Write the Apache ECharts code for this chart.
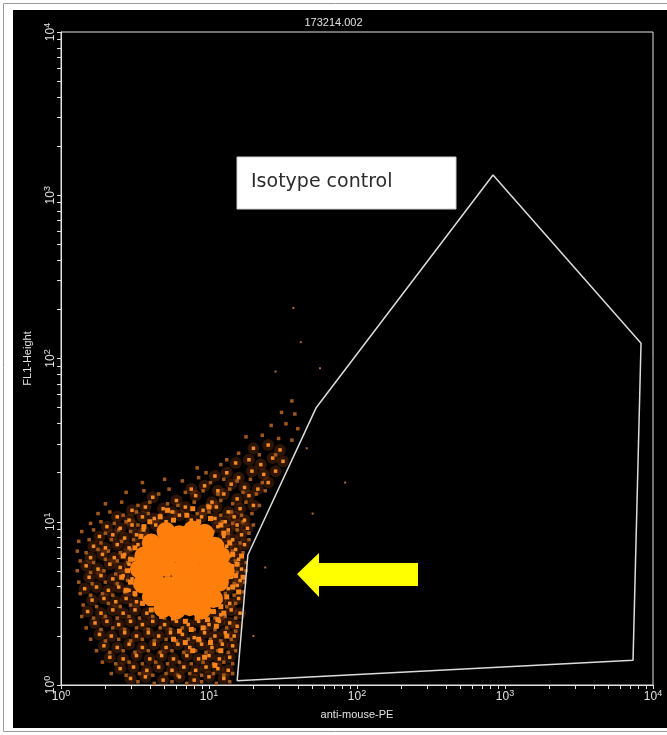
<!DOCTYPE html>
<html>
<head>
<meta charset="utf-8">
<script src="https://cdn.jsdelivr.net/npm/echarts@6/dist/echarts.min.js"></script>
<style>
  html, body { margin: 0; padding: 0; background: #fff; }
  #main { width: 667px; height: 735px; }
</style>
</head>
<body>
<div id="main"></div>
<script>
// Sample 173214.002 — anti-mouse-PE vs FL1-Height, isotype control
const sampleName = '173214.002';
const xTitle = 'anti-mouse-PE';
const yTitle = 'FL1-Height';
const noteText = 'Isotype control';

// Decades shown on both axes (10^0 .. 10^4)
const decades = [0, 1, 2, 3, 4];

// Gate polygon vertices in channel units (closed)
const gatePE  = [15.5, 18.3, 52.8, 830, 8300, 7330, 15.5];
const gateFL1 = [1.06, 6.26, 49.7, 1331, 124, 1.42, 1.06];

// Events, as [log10 PE, log10 FL1]
// dense centre of the population
const coreEvents = [
  [0.71,0.94],[0.80,0.92],[0.89,0.95],[0.97,0.93],
  [0.61,0.87],[0.69,0.85],[0.78,0.87],[0.88,0.86],[0.96,0.87],[1.04,0.85],
  [0.56,0.79],[0.65,0.78],[0.74,0.80],[0.83,0.78],[0.91,0.79],[1.00,0.77],[1.08,0.79],
  [0.53,0.71],[0.62,0.70],[0.71,0.72],[0.80,0.70],[0.88,0.71],[0.97,0.69],[1.05,0.71],[1.11,0.70],
  [0.55,0.62],[0.64,0.63],[0.73,0.61],[0.81,0.63],[0.90,0.62],[0.99,0.61],[1.07,0.63],
  [0.61,0.54],[0.70,0.55],[0.79,0.53],[0.88,0.54],[0.96,0.55],[1.03,0.53],
  [0.69,0.47],[0.78,0.46],[0.87,0.48],[0.95,0.46]
];
// events packed just around the centre
const ringEvents = [
  [0.60,1.00],[0.67,1.03],[0.76,1.01],[0.85,1.04],[0.93,1.00],[1.01,1.02],[1.08,0.98],[0.56,0.97],[0.72,1.07],[0.89,1.08],[1.00,1.09],
  [1.10,0.93],[1.14,0.87],[1.16,0.80],[1.19,0.74],[1.18,0.67],[1.16,0.60],[1.12,0.54],[1.08,0.48],[1.22,0.79],[1.23,0.66],[1.20,0.57],
  [1.03,0.45],[0.99,0.40],[0.92,0.41],[0.84,0.39],[0.76,0.41],[0.68,0.42],[0.61,0.46],[0.55,0.50],[0.88,0.34],[0.80,0.33],[0.96,0.35],[1.06,0.40],
  [0.50,0.56],[0.47,0.63],[0.45,0.70],[0.47,0.77],[0.50,0.84],[0.54,0.91],[0.41,0.66],[0.42,0.79],[0.44,0.58],
  [1.10,0.44],[1.05,0.36],[1.12,0.30],[0.93,0.28],[1.01,0.26],[1.08,0.21],[0.89,0.21],[0.97,0.17],[1.04,0.12],[0.84,0.26],[0.76,0.28]
];
// bright events around the centre
const brightEvents = [
  [0.62,1.15],[0.78,1.13],[0.91,1.16],[1.02,1.12],[1.10,1.17],[1.19,1.14],[1.27,1.16],
  [0.48,1.07],[0.57,1.09],[0.69,1.08],[0.75,1.06],[0.84,1.09],[0.96,1.07],[1.05,1.09],[1.13,1.06],[1.21,1.08],[1.30,1.10],
  [0.38,1.03],[0.46,1.01],[0.55,1.03],[0.63,1.02],[0.71,1.00],[0.80,1.04],[0.88,1.01],[0.95,1.03],[1.04,1.02],[1.11,1.00],[1.17,1.03],[1.24,1.01],
  [0.31,0.97],[0.40,0.96],[0.48,0.98],[0.56,0.95],[0.64,0.98],[1.06,0.97],[1.13,0.95],[1.19,0.98],[1.26,0.96],
  [0.26,0.91],[0.35,0.92],[0.43,0.90],[0.51,0.92],[0.58,0.90],[1.10,0.91],[1.16,0.89],[1.22,0.92],
  [0.22,0.85],[0.30,0.84],[0.38,0.86],[0.46,0.84],[0.52,0.86],[1.12,0.85],[1.18,0.83],[1.24,0.86],
  [0.20,0.78],[0.28,0.80],[0.36,0.78],[0.43,0.80],[0.49,0.77],[1.14,0.79],[1.20,0.77],
  [0.17,0.73],[0.25,0.71],[0.33,0.74],[0.40,0.72],[0.46,0.74],[1.16,0.73],[1.22,0.71],
  [0.19,0.66],[0.27,0.67],[0.35,0.65],[0.42,0.67],[0.48,0.65],[1.15,0.66],[1.21,0.64],
  [0.16,0.59],[0.24,0.60],[0.32,0.58],[0.39,0.60],[0.46,0.58],[1.13,0.59],[1.19,0.61],
  [0.21,0.52],[0.29,0.53],[0.37,0.51],[0.44,0.53],[0.51,0.51],[1.08,0.52],[1.14,0.50],[1.20,0.53],
  [0.18,0.45],[0.27,0.44],[0.35,0.46],[0.42,0.44],[0.50,0.46],[0.58,0.44],[1.01,0.45],[1.08,0.43],[1.15,0.46],[1.21,0.44],
  [0.23,0.38],[0.31,0.39],[0.39,0.37],[0.47,0.39],[0.55,0.37],[0.62,0.39],[0.70,0.37],[0.78,0.39],[0.86,0.37],[0.93,0.39],[1.00,0.37],[1.07,0.39],[1.14,0.38],[1.19,0.36],
  [0.26,0.31],[0.34,0.30],[0.43,0.32],[0.51,0.30],[0.59,0.32],[0.66,0.30],[0.74,0.32],[0.82,0.31],[0.90,0.29],[0.97,0.32],[1.04,0.30],[1.11,0.32],[1.17,0.30],
  [0.29,0.24],[0.38,0.23],[0.46,0.25],[0.55,0.23],[0.63,0.25],[0.71,0.23],[0.79,0.25],[0.87,0.23],[0.95,0.25],[1.02,0.23],[1.09,0.25],[1.16,0.24],
  [0.33,0.17],[0.42,0.16],[0.51,0.18],[0.60,0.16],[0.68,0.18],[0.76,0.16],[0.85,0.18],[0.93,0.16],[1.00,0.18],[1.07,0.16],[1.14,0.17],
  [0.40,0.10],[0.49,0.11],[0.58,0.09],[0.66,0.11],[0.75,0.09],[0.83,0.11],[0.91,0.09],[0.98,0.11],[1.06,0.10],[1.13,0.09],
  [0.47,0.04],[0.57,0.05],[0.69,0.03],[0.80,0.05],[0.90,0.03],[1.00,0.05],[1.10,0.04],
  [0.88,1.20],[0.97,1.22],[1.06,1.19],[1.15,1.23],[1.24,1.21],[1.33,1.20],[1.40,1.24],
  [1.04,1.28],[1.12,1.30],[1.20,1.27],[1.29,1.31],[1.37,1.29],[1.45,1.31],
  [1.18,1.36],[1.27,1.38],[1.35,1.35],[1.43,1.39],[1.50,1.37],
  [1.30,1.45],[1.40,1.47],[1.48,1.44]
];
// dimmer events filling the outer cloud
const dimEvents = [
  [0.92,1.33],[1.08,1.35],
  [0.55,1.24],[0.70,1.26],[0.82,1.25],[0.93,1.27],[1.01,1.24],[1.10,1.26],[1.19,1.25],[1.28,1.26],[1.36,1.24],
  [0.44,1.18],[0.56,1.19],[0.66,1.17],[0.73,1.20],[0.84,1.18],[0.96,1.19],[1.06,1.17],[1.14,1.20],[1.23,1.18],[1.32,1.17],[1.38,1.19],
  [0.30,1.11],[0.41,1.12],[0.52,1.10],[0.60,1.12],[0.72,1.11],[0.79,1.10],[0.90,1.12],[0.99,1.10],[1.08,1.13],[1.16,1.11],[1.25,1.12],[1.34,1.10],
  [0.25,1.05],[0.33,1.06],[0.42,1.04],[0.51,1.06],[0.59,1.05],[0.67,1.04],[0.76,1.06],[0.92,1.05],[1.00,1.06],[1.08,1.04],[1.15,1.06],[1.22,1.04],[1.29,1.05],
  [0.20,0.99],[0.27,1.00],[0.36,0.99],[0.44,1.00],[0.52,0.98],[1.09,1.00],[1.16,0.99],[1.23,1.00],[1.30,0.98],
  [0.14,0.94],[0.22,0.95],[0.30,0.93],[0.39,0.95],[0.47,0.94],[0.55,0.95],[1.03,0.94],[1.13,0.93],[1.19,0.95],[1.27,0.93],
  [0.12,0.88],[0.19,0.89],[0.27,0.87],[0.34,0.89],[0.41,0.88],[0.49,0.89],[1.14,0.88],[1.21,0.87],[1.27,0.89],
  [0.11,0.82],[0.17,0.81],[0.25,0.83],[0.32,0.82],[0.40,0.81],[0.47,0.83],[1.16,0.82],[1.23,0.81],
  [0.13,0.76],[0.22,0.75],[0.30,0.77],[0.38,0.76],[0.45,0.75],[1.18,0.76],[1.25,0.75],
  [0.11,0.70],[0.20,0.69],[0.29,0.70],[0.37,0.68],[0.44,0.70],[1.19,0.69],[1.25,0.70],
  [0.12,0.63],[0.21,0.62],[0.30,0.63],[0.38,0.62],[0.45,0.64],[1.17,0.62],[1.24,0.63],
  [0.13,0.56],[0.20,0.55],[0.28,0.56],[0.35,0.55],[0.43,0.57],[0.50,0.55],[1.11,0.56],[1.17,0.55],[1.23,0.57],
  [0.15,0.49],[0.24,0.48],[0.32,0.50],[0.40,0.48],[0.47,0.49],[0.55,0.50],[1.05,0.49],[1.12,0.48],[1.18,0.50],
  [0.14,0.42],[0.22,0.41],[0.30,0.42],[0.38,0.41],[0.46,0.42],[0.53,0.41],[0.62,0.42],[0.70,0.41],[0.97,0.42],[1.04,0.41],[1.11,0.42],[1.18,0.41],
  [0.17,0.35],[0.27,0.34],[0.35,0.35],[0.43,0.34],[0.51,0.35],[0.59,0.34],[0.67,0.35],[0.74,0.34],[0.82,0.35],[0.90,0.34],[0.97,0.35],[1.04,0.34],[1.12,0.35],[1.18,0.33],
  [0.20,0.28],[0.30,0.27],[0.39,0.28],[0.47,0.27],[0.55,0.28],[0.63,0.27],[0.71,0.28],[0.78,0.27],[0.86,0.28],[0.94,0.27],[1.01,0.28],[1.08,0.27],[1.15,0.28],
  [0.24,0.21],[0.33,0.20],[0.42,0.21],[0.50,0.20],[0.59,0.21],[0.67,0.20],[0.75,0.21],[0.83,0.20],[0.91,0.21],[0.98,0.20],[1.06,0.21],[1.13,0.20],[1.18,0.21],
  [0.28,0.14],[0.37,0.13],[0.46,0.14],[0.55,0.13],[0.64,0.14],[0.72,0.13],[0.80,0.14],[0.88,0.13],[0.96,0.14],[1.03,0.13],[1.10,0.14],[1.16,0.13],
  [0.34,0.07],[0.44,0.06],[0.53,0.07],[0.62,0.06],[0.71,0.07],[0.79,0.06],[0.87,0.07],[0.95,0.06],[1.03,0.07],[1.10,0.06],[1.16,0.07],
  [0.52,0.02],[0.63,0.01],[0.75,0.02],[0.85,0.01],[0.95,0.02],[1.05,0.01],[1.14,0.02],
  [1.20,1.42],[1.34,1.41],[1.45,1.41],[1.25,1.52],[1.36,1.53],[1.47,1.51],[1.56,1.50],
  [1.42,1.59],[1.52,1.60],[1.60,1.57],[1.49,1.67],[1.58,1.66],[1.56,1.74],[1.12,1.38],[0.98,1.30]
];
// isolated events
const strayEvents = [
  [1.57,2.31],[1.75,1.94],[1.92,1.24],[1.66,1.45],[1.38,0.72],[1.30,0.30],[1.62,2.10],[1.45,1.92],[1.70,1.05]
];

const toDecades = (v) => Math.log10(v);
const gateLine = gatePE.map((v, i) => [toDecades(v), toDecades(gateFL1[i])]);

// log-style ticks: 1..9 within each decade
const tickPositions = [];
decades.forEach(d => {
  if (d === decades[decades.length - 1]) { tickPositions.push(d); return; }
  for (let m = 1; m <= 9; m++) tickPositions.push(d + Math.log10(m));
});

const fg = '#e2e2e2';
const labelRich = {
  b: { fontSize: 12, color: fg, fontFamily: 'Liberation Sans, Arial, sans-serif', lineHeight: 14, verticalAlign: 'bottom' },
  s: { fontSize: 9, color: fg, fontFamily: 'Liberation Sans, Arial, sans-serif', lineHeight: 14, verticalAlign: 'top', padding: [0, 0, 6, 0] }
};
const powLabel = (v) => '{b|10}{s|' + Math.round(v) + '}';

function axisCommon(name) {
  return {
    type: 'value',
    min: 0,
    max: 4,
    interval: 1,
    name: name,
    nameLocation: 'middle',
    nameTextStyle: { color: fg, fontSize: 11, fontFamily: 'Liberation Sans, Arial, sans-serif' },
    axisLine: { show: true, onZero: false, lineStyle: { color: fg, width: 1 } },
    axisTick: { show: true, inside: false, length: 4, customValues: tickPositions, lineStyle: { color: fg, width: 1 } },
    axisLabel: { customValues: decades, formatter: powLabel, rich: labelRich, color: fg },
    splitLine: { show: false }
  };
}

const chart = echarts.init(document.getElementById('main'), null, { renderer: 'canvas' });
const xAxis = axisCommon(xTitle);
xAxis.nameGap = 24;
xAxis.axisLabel.margin = 4;
const yAxis = axisCommon(yTitle);
yAxis.nameGap = 28;
yAxis.axisLabel.rotate = 90;
yAxis.axisLabel.margin = 4;

chart.setOption({
  backgroundColor: '#ffffff',
  animation: false,
  title: {
    text: sampleName,
    left: 'center',
    top: 12,
    textStyle: { color: fg, fontSize: 11, fontWeight: 'normal', fontFamily: 'Liberation Sans, Arial, sans-serif' }
  },
  grid: {
    left: 61, right: 14, top: 32, bottom: 50,
    show: true, borderColor: fg, borderWidth: 1, backgroundColor: 'transparent'
  },
  xAxis: xAxis,
  yAxis: yAxis,
  graphic: [
    { type: 'rect', z: -10, silent: true, shape: { x: 3.5, y: 3.5, width: 670, height: 728 },
      style: { fill: '#ffffff', stroke: '#9a9a9a', lineWidth: 1 } },
    { type: 'rect', z: -9, silent: true, shape: { x: 13, y: 10, width: 660, height: 718 },
      style: { fill: '#000000' } },
    { type: 'rect', z: 100, shape: { x: 237, y: 157, width: 219, height: 52 },
      style: { fill: '#ffffff', stroke: '#cfcfcf', lineWidth: 1 } },
    { type: 'text', z: 101, x: 251, y: 182,
      style: { text: noteText, fill: '#2b2b2b', fontSize: 19, fontFamily: 'DejaVu Sans, sans-serif', verticalAlign: 'middle' } },
    { type: 'polygon', z: 100,
      shape: { points: [[297, 574], [319, 553], [319, 563], [418, 563], [418, 586], [319, 586], [319, 597]] },
      style: { fill: '#ffff00' } }
  ],
  series: [
    // faint density glow under the brighter events
    { type: 'scatter', data: brightEvents, symbol: 'circle', symbolSize: 12,
      itemStyle: { color: 'rgba(190,85,12,0.24)', opacity: 1 }, silent: true, z: 1 },
    { type: 'scatter', data: dimEvents, symbol: 'rect', symbolSize: 3.5,
      itemStyle: { color: '#a0581c', opacity: 1 }, silent: true, z: 2 },
    { type: 'scatter', data: brightEvents, symbol: 'rect', symbolSize: 3.5,
      itemStyle: { color: '#f48a24', opacity: 1 }, silent: true, z: 3 },
    { type: 'scatter', data: ringEvents, symbol: 'rect', symbolSize: 5,
      itemStyle: { color: '#f7831a', opacity: 1 }, silent: true, z: 3 },
    { type: 'scatter', data: coreEvents, symbol: 'circle', symbolSize: 19,
      itemStyle: { color: '#ff7f0c', opacity: 1 }, silent: true, z: 4 },
    { type: 'scatter', data: strayEvents, symbol: 'rect', symbolSize: 2,
      itemStyle: { color: '#b86a2a', opacity: 1 }, silent: true, z: 3 },
    { type: 'line', data: gateLine, symbol: 'none', silent: true, z: 5,
      lineStyle: { color: '#dcdcdc', width: 1.5 } }
  ]
});
</script>
</body>
</html>
